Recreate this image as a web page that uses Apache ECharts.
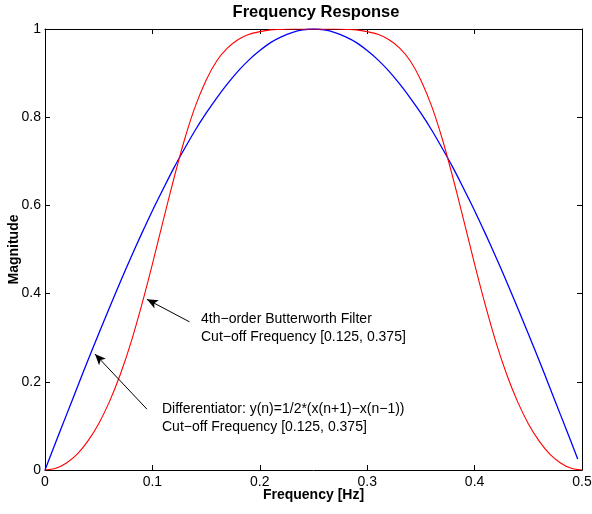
<!DOCTYPE html>
<html>
<head>
<meta charset="utf-8">
<script src="https://cdn.jsdelivr.net/npm/echarts@6/dist/echarts.min.js"></script>
<style>
html,body{margin:0;padding:0;background:#fff;}
#chart{width:592px;height:514px;}
</style>
</head>
<body>
<div id="chart"></div>
<script>
// Frequency grid (Hz)
var freq = [0.00,0.01,0.02,0.03,0.04,0.05,0.06,0.07,0.08,0.09,
            0.10,0.11,0.12,0.13,0.14,0.15,0.16,0.17,0.18,0.19,
            0.20,0.21,0.22,0.23,0.24,0.25,0.26,0.27,0.28,0.29,
            0.30,0.31,0.32,0.33,0.34,0.35,0.36,0.37,0.38,0.39,
            0.40,0.41,0.42,0.43,0.44,0.45,0.46,0.47,0.48,0.49,0.50];
// Differentiator magnitude (blue)
var diffFreq = [0.00,0.01,0.02,0.03,0.04,0.05,0.06,0.07,0.08,0.09,
            0.10,0.11,0.12,0.13,0.14,0.15,0.16,0.17,0.18,0.19,
            0.20,0.21,0.22,0.23,0.24,0.25,0.26,0.27,0.28,0.29,
            0.30,0.31,0.32,0.33,0.34,0.35,0.36,0.37,0.38,0.39,
            0.40,0.41,0.42,0.43,0.44,0.45,0.46,0.47,0.48,0.49,0.496];
var diffMag = [0.000,0.063,0.125,0.187,0.249,0.309,0.368,0.426,0.482,0.536,
               0.588,0.637,0.685,0.729,0.771,0.809,0.844,0.876,0.905,0.930,
               0.951,0.969,0.982,0.992,0.998,1.000,0.998,0.992,0.982,0.969,
               0.951,0.930,0.905,0.876,0.844,0.809,0.771,0.729,0.685,0.637,
               0.588,0.536,0.482,0.426,0.368,0.309,0.249,0.187,0.125,0.063,0.025];
// Butterworth band-pass magnitude (red)
var buttMag = [0.000,0.004,0.016,0.036,0.066,0.105,0.155,0.216,0.289,0.374,
               0.467,0.565,0.661,0.750,0.825,0.884,0.928,0.957,0.976,0.988,
               0.994,0.998,0.999,1.000,1.000,1.000,1.000,1.000,0.999,0.998,
               0.994,0.988,0.976,0.957,0.928,0.884,0.825,0.750,0.661,0.565,
               0.467,0.374,0.289,0.216,0.155,0.105,0.066,0.036,0.016,0.004,0.000];
var xTicks = [0, 0.1, 0.2, 0.3, 0.4, 0.5];
var yTicks = [0, 0.2, 0.4, 0.6, 0.8, 1];
// Annotation arrows: [tail, tip] in data coordinates
var arrowButter = [[0.1345, 0.336], [0.0949, 0.387]];
var arrowDiff = [[0.0949, 0.138], [0.0465, 0.263]];
var noteButter = ['4th\u2212order Butterworth Filter', 'Cut\u2212off Frequency [0.125, 0.375]'];
var noteDiff = ['Differentiator: y(n)=1/2*(x(n+1)\u2212x(n\u22121))', 'Cut\u2212off Frequency [0.125, 0.375]'];

var FONT = '"Liberation Sans", Arial, Helvetica, sans-serif';
function pairs(xs, ys){ return xs.map(function(x,i){ return [x, ys[i]]; }); }

var chart = echarts.init(document.getElementById('chart'), null, {renderer:'canvas'});
var axisCommon = {
  type:'value', min:0, interval:0.1, nameMoveOverlap:false,
  axisLine:{show:true, onZero:false, lineStyle:{color:'#000', width:1}},
  axisTick:{show:true, inside:true, length:5, lineStyle:{color:'#000', width:1}},
  splitLine:{show:false}
};
function arrowLine(a){
  return [{coord:a[0], symbol:'none'}, {coord:a[1], symbol:'arrow', symbolSize:[7,11]}];
}
var option = {
  animation:false,
  backgroundColor:'#fff',
  title:{
    text:'Frequency Response', left:316, top:4, padding:0, textAlign:'center',
    textStyle:{fontFamily:FONT, fontSize:16.5, fontWeight:'bold', color:'#000'}
  },
  grid:{left:45, right:10, top:29, bottom:44, containLabel:false, outerBoundsMode:'none'},
  xAxis:[
    Object.assign({}, axisCommon, {
      max:0.5, position:'bottom',
      name:'Frequency [Hz]', nameLocation:'middle', nameGap:18,
      nameTextStyle:{fontFamily:FONT, fontSize:14, fontWeight:'bold', color:'#000'},
      axisLabel:{fontFamily:FONT, fontSize:14, color:'#000', margin:5,
        formatter:function(v){ var r=Math.round(v*10)/10; return xTicks.indexOf(r) >= 0 ? String(r) : ''; }}
    }),
    Object.assign({}, axisCommon, {max:0.5, position:'top', axisLabel:{show:false}})
  ],
  yAxis:[
    Object.assign({}, axisCommon, {
      min:0, max:1, interval:0.2, position:'left',
      name:'Magnitude', nameLocation:'middle', nameGap:24, nameRotate:90,
      nameTextStyle:{fontFamily:FONT, fontSize:14, fontWeight:'bold', color:'#000'},
      axisLabel:{fontFamily:FONT, fontSize:14, color:'#000', margin:4,
        formatter:function(v){ var r=Math.round(v*10)/10; return yTicks.indexOf(r) >= 0 ? String(r) : ''; }}
    }),
    Object.assign({}, axisCommon, {min:0, max:1, interval:0.2, position:'right', axisLabel:{show:false}})
  ],
  series:[
    {
      type:'line', name:'Differentiator', data:pairs(diffFreq, diffMag),
      showSymbol:false, symbol:'none', smooth:0.3,
      lineStyle:{color:'#0000ff', width:1.3}, z:2
    },
    {
      type:'line', name:'Butterworth', data:pairs(freq, buttMag),
      showSymbol:false, symbol:'none', smooth:0.3,
      lineStyle:{color:'#ff0000', width:1.1}, z:3,
      markLine:{
        silent:true, animation:false,
        label:{show:false},
        lineStyle:{color:'#000', width:1, type:'solid'},
        emphasis:{disabled:true},
        data:[arrowLine(arrowButter), arrowLine(arrowDiff)]
      }
    }
  ],
  graphic:[
    {type:'text', left:201, top:310, style:{text:noteButter.join('\n'), fontFamily:FONT, fontSize:14, lineHeight:18, fill:'#000'}},
    {type:'text', left:162, top:400, style:{text:noteDiff.join('\n'), fontFamily:FONT, fontSize:14, lineHeight:18, fill:'#000'}}
  ]
};
chart.setOption(option);
</script>
</body>
</html>
